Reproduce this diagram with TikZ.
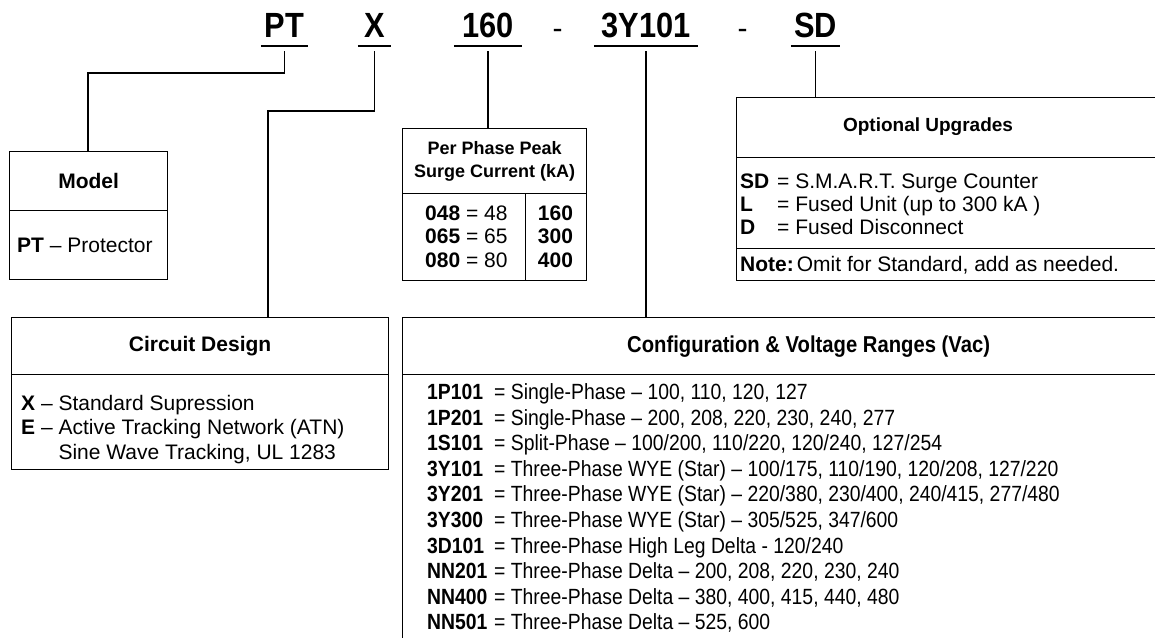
\documentclass[tikz,border=0pt]{standalone}
\usepackage{fontspec}
\setmainfont{Liberation Sans}
\newfontfamily\narrowfont[FakeStretch=0.88]{Liberation Sans}
\newfontfamily\codefont[FakeStretch=0.88]{Liberation Sans}
\usetikzlibrary{positioning,calc}
\newcommand{\fs}[2]{\fontsize{#1}{#2}\selectfont}
\tikzset{
  partcode/.style={font=\codefont\bfseries\fs{35}{38}, anchor=south, inner xsep=3pt, inner ysep=0pt, text depth=8pt},
  partdash/.style={font=\fs{30}{32}, anchor=base, inner sep=0pt},
  under/.style={line width=1.4pt},
  lead/.style={line width=1.2pt},
  tblcell/.style={draw, line width=1.2pt, anchor=north west, inner sep=0pt, align=center},
  tblhead/.style={tblcell, font=\bfseries\fs{21}{24}},
  tblheadsm/.style={tblcell, font=\bfseries\fs{18}{23}},
  tbltext/.style={anchor=base west, inner sep=0pt, font=\fs{21}{24}},
  cfgtext/.style={anchor=base west, inner sep=0pt, font=\narrowfont\fs{22}{24}}
}

\begin{document}
\begin{tikzpicture}[x=1pt,y=-1pt]
\fill[white] (0,0) rectangle (1155,637);
\useasboundingbox (0,0) rectangle (1155,637);
\clip (0,0) rectangle (1155,637);

\node[partcode, minimum width=47pt] (cPT) at (284.5,46) {PT};
\node[partcode, minimum width=33pt] (cX) at (374.5,46) {X};
\node[partcode, minimum width=68pt] (c160) at (488,46) {160};
\node[partdash] (d1) at (557.5,38) {-};
\node[partcode, minimum width=104pt] (c3Y) at (646,46) {3Y101};
\node[partdash] (d2) at (742.5,38) {-};
\node[partcode, minimum width=49pt] (cSD) at (815.5,46) {SD};
\foreach \n in {cPT,cX,c160,c3Y,cSD}
  \draw[under] (\n.south west) -- (\n.south east);

\node[tblhead, minimum width=158pt, minimum height=59pt] (mdlHead) at (9,151) {Model};
\node[tblcell, minimum width=158pt, minimum height=69pt] (mdlBody) at (9,210) {};
\node[tbltext] (mdlPT) at (17,252.5) {\textbf{PT} – Protector};

\node[tblheadsm, minimum width=184pt, minimum height=65pt] (ppHead) at (402,128) {Per Phase Peak\\Surge Current (kA)};
\node[tblcell, minimum width=123pt, minimum height=87pt] (ppLeft) at (402,193) {};
\node[tblcell, minimum width=61pt, minimum height=87pt] (ppRight) at (525,193) {};
\foreach \a/\b/\c [count=\i] in {048/48/160, 065/65/300, 080/80/400} {
  \node[tbltext] (ppL\i) at (425,{196.5+23.5*\i}) {\textbf{\a} = \b};
  \node[tbltext, anchor=base] (ppR\i) at (555.5,{196.5+23.5*\i}) {\textbf{\c}};
}

\node[tblcell, minimum width=480pt, minimum height=60pt] (optHead) at (736,97) {};
\node[font=\bfseries\fs{19}{22}] (optTitle) at (928,127) {Optional Upgrades};
\node[tblcell, minimum width=480pt, minimum height=91pt] (optBody) at (736,157) {};
\node[tblcell, minimum width=480pt, minimum height=32pt] (optNote) at (736,248) {};
\foreach \a/\b [count=\i] in {SD/S.M.A.R.T. Surge Counter, L/{Fused Unit (up to 300 kA )}, D/Fused Disconnect}
  \node[tbltext] (opt\i) at (740,{165+23*\i}) {\makebox[37pt][l]{\textbf{\a}}= \b};
\node[tbltext] (optN) at (740,271) {\textbf{Note:}\hspace{3pt}Omit for Standard, add as needed.};

\node[tblhead, minimum width=377pt, minimum height=57pt] (crcHead) at (11,317) {Circuit Design};
\node[tblcell, minimum width=377pt, minimum height=95pt] (crcBody) at (11,374) {};
\node[tbltext] (crc1) at (21,410) {\textbf{X} – Standard Supression};
\node[tbltext] (crc2) at (21,434.5) {\textbf{E} – Active Tracking Network (ATN)};
\node[tbltext] (crc3) at (21,459) {\phantom{\textbf{E} – }Sine Wave Tracking, UL 1283};

\node[tblcell, font=\narrowfont\bfseries\fs{23}{25}, minimum width=812pt, minimum height=57pt] (cfgHead) at (402,317) {Configuration \& Voltage Ranges (Vac)};
\node[tblcell, minimum width=812pt, minimum height=350pt] (cfgBody) at (402,374) {};
\foreach \a/\b [count=\i] in {
  1P101/{Single-Phase – 100, 110, 120, 127},
  1P201/{Single-Phase – 200, 208, 220, 230, 240, 277},
  1S101/{Split-Phase – 100/200, 110/220, 120/240, 127/254},
  3Y101/{Three-Phase WYE (Star) – 100/175, 110/190, 120/208, 127/220},
  3Y201/{Three-Phase WYE (Star) – 220/380, 230/400, 240/415, 277/480},
  3Y300/{Three-Phase WYE (Star) – 305/525, 347/600},
  3D101/{Three-Phase High Leg Delta - 120/240},
  NN201/{Three-Phase Delta – 200, 208, 220, 230, 240},
  NN400/{Three-Phase Delta – 380, 400, 415, 440, 480},
  NN501/{Three-Phase Delta – 525, 600}}
  \node[cfgtext] (cfg\i) at (427,{373.9+25.6*\i}) {\makebox[67pt][l]{\textbf{\a}}= \b};

\coordinate (bPT) at (88,73);
\coordinate (bX) at (268,111);
\draw[lead] ([yshift=-5pt]cPT.south) |- (bPT) -- (bPT |- mdlHead.north);
\draw[lead] ([yshift=-5pt]cX.south) |- (bX) -- (bX |- crcHead.north);
\draw[lead] ([yshift=-5pt]c160.south) -- (c160.south |- ppHead.north);
\draw[lead] ([yshift=-5pt]c3Y.south) -- (c3Y.south |- cfgHead.north);
\draw[lead] ([yshift=-5pt]cSD.south) -- (cSD.south |- optHead.north);
\end{tikzpicture}
\end{document}
